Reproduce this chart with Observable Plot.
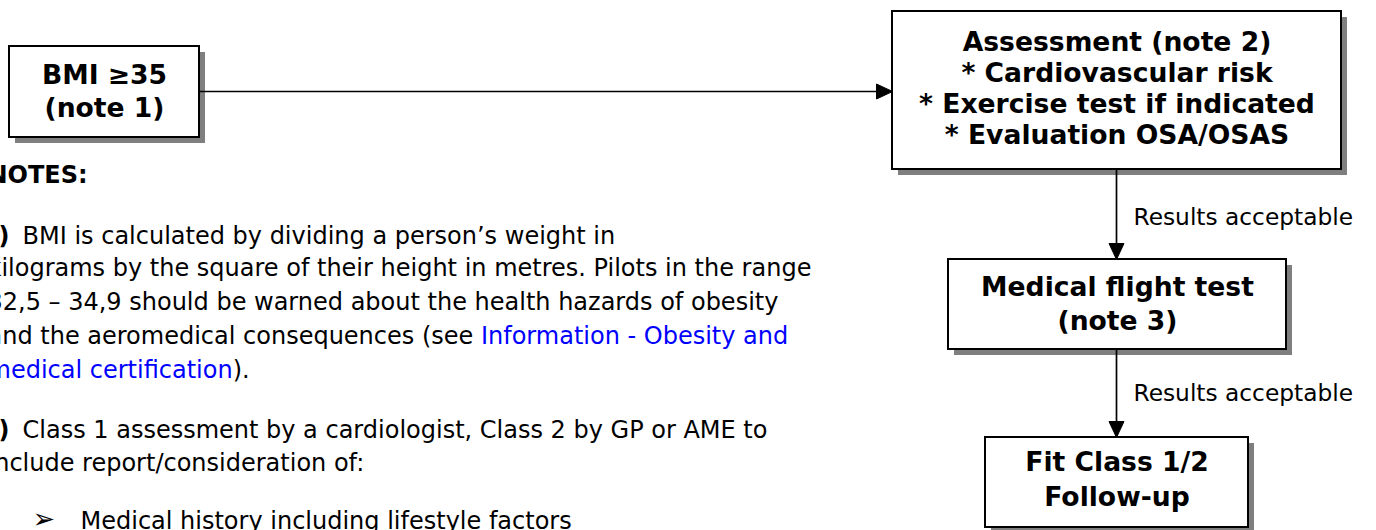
<!DOCTYPE html>
<html><head><meta charset="utf-8">
<script src="https://cdn.jsdelivr.net/npm/d3@7"></script>
<script src="https://cdn.jsdelivr.net/npm/@observablehq/plot@0.6"></script>
<style>
  html,body{margin:0;padding:0;background:#fff;overflow:hidden}
  svg{display:block}
</style>
</head><body><div id="chart"></div>
<script>
// ---------- content ----------
const boxLabels = [
  ["BMI ≥35", "(note 1)"],
  ["Assessment (note 2)", "* Cardiovascular risk", "* Exercise test if indicated", "* Evaluation OSA/OSAS"],
  ["Medical flight test", "(note 3)"],
  ["Fit Class 1/2", "Follow-up"]
];
const edgePairs = [[0, 1], [1, 2], [2, 3]];
const edgeLabels = ["", "Results acceptable", "Results acceptable"];

const noteHeading = "NOTES:";
const noteNumbers = ["1)", "2)"];
const noteLines = [
  [{text: "BMI is calculated by dividing a person’s weight in"}],
  [{text: "kilograms by the square of their height in metres. Pilots in the range"}],
  [{text: "32,5 – 34,9 should be warned about the health hazards of obesity"}],
  [{text: "and the aeromedical consequences (see "}, {text: "Information - Obesity and", link: true}],
  [{text: "medical certification", link: true}, {text: ")."}],
  [{text: "Class 1 assessment by a cardiologist, Class 2 by GP or AME to"}],
  [{text: "include report/consideration of:"}],
  [{text: "Medical history including lifestyle factors"}]
];
const bulletGlyph = "➢";

// ---------- layout (pixel space) ----------
const W = 1376, H = 530;
const FONT = "DejaVu Sans";
const boxFrames = [
  {x1: 9, x2: 199, y1: 46, y2: 137, lineY: [75, 108]},
  {x1: 892, x2: 1341, y1: 11, y2: 169, lineY: [42, 73, 104, 135]},
  {x1: 948, x2: 1286, y1: 259, y2: 349, lineY: [287, 321]},
  {x1: 985, x2: 1248, y1: 437, y2: 527, lineY: [462, 497]}
];
const edgeGeom = [
  {x1: 199, y1: 91, x2: 892, y2: 91},
  {x1: 1116, y1: 169, x2: 1116, y2: 259},
  {x1: 1116, y1: 349, x2: 1116, y2: 437}
];
const edgeLabelPos = [null, {x: 1133, y: 217}, {x: 1133, y: 393}];
const noteLineY = [236, 268, 302, 336, 370, 430, 463, 521];
const noteLineX = [22, -13, -13, -13, -13, 22, -13, 80];
const noteNumberPos = [{x: 9, y: 236}, {x: 9, y: 430}];
const headingPos = {x: -13, y: 175};
const bulletPos = {x: 32, y: 519};
const NOTE_SIZE = 24, BOX_SIZE = 26.6, EDGE_SIZE = 23.3;
const SHADOW = 6, HEAD_LEN = 16, HEAD_HALF = 7.5;

// ---------- derived data ----------
const ctx = document.createElement("canvas").getContext("2d");
const measure = (t, bold, size) => { ctx.font = `${bold ? "bold " : ""}${size}px "${FONT}"`; return ctx.measureText(t).width; };

const boxes = boxFrames.map((f, i) => ({...f, id: i}));
const boxText = boxLabels.flatMap((lines, i) => lines.map((t, j) => ({
  text: t, x: (boxFrames[i].x1 + boxFrames[i].x2) / 2, y: boxFrames[i].lineY[j]
})));

const edgeLines = [], heads = [];
edgePairs.forEach((p, i) => {
  const g = edgeGeom[i];
  const dx = g.x2 - g.x1, dy = g.y2 - g.y1, L = Math.hypot(dx, dy);
  const ux = dx / L, uy = dy / L;
  const bx = g.x2 - ux * HEAD_LEN, by = g.y2 - uy * HEAD_LEN;
  edgeLines.push({x1: g.x1, y1: g.y1, x2: bx + ux, y2: by + uy});
  heads.push({id: i, x: g.x2, y: g.y2}, {id: i, x: bx - uy * HEAD_HALF, y: by + ux * HEAD_HALF},
             {id: i, x: bx + uy * HEAD_HALF, y: by - ux * HEAD_HALF}, {id: i, x: g.x2, y: g.y2});
});
const edgeText = edgeLabels.map((t, i) => t ? {text: t, ...edgeLabelPos[i]} : null).filter(Boolean);

const noteSegs = [];
noteLines.forEach((parts, i) => {
  let x = noteLineX[i];
  parts.forEach(p => {
    noteSegs.push({text: p.text, x, y: noteLineY[i], color: p.link ? "#0000ff" : "#000"});
    x += measure(p.text, false, NOTE_SIZE);
  });
});
const numbers = noteNumbers.map((t, i) => ({text: t, ...noteNumberPos[i]}));

// ---------- plot ----------
const chart = Plot.plot({
  width: W, height: H,
  margin: 0,
  x: {domain: [0, W], range: [0, W], axis: null},
  y: {domain: [0, H], range: [0, H], axis: null},
  style: {fontFamily: `"${FONT}", Verdana, sans-serif`, background: "#fff"},
  marks: [
    // box shadows
    Plot.rect(boxes, {x1: d => d.x1 + SHADOW, x2: d => d.x2 + SHADOW, y1: d => d.y1 + SHADOW, y2: d => d.y2 + SHADOW, fill: "#7f7f7f"}),
    // boxes
    Plot.rect(boxes, {x1: "x1", x2: "x2", y1: "y1", y2: "y2", fill: "#fff", stroke: "#000", strokeWidth: 2}),
    Plot.text(boxText, {x: "x", y: "y", text: "text", fontSize: BOX_SIZE, fontWeight: "bold", fill: "#000", lineAnchor: "middle"}),
    // edges
    Plot.link(edgeLines, {x1: "x1", y1: "y1", x2: "x2", y2: "y2", stroke: "#000", strokeWidth: 1.7}),
    Plot.line(heads, {x: "x", y: "y", z: "id", fill: "#000", stroke: "#000", strokeWidth: 1}),
    Plot.text(edgeText, {x: "x", y: "y", text: "text", fontSize: EDGE_SIZE, textAnchor: "start", fill: "#000", lineAnchor: "middle"}),
    // notes
    Plot.text([{text: noteHeading, ...headingPos}], {x: "x", y: "y", text: "text", fontSize: NOTE_SIZE, fontWeight: "bold", textAnchor: "start", fill: "#000", lineAnchor: "middle"}),
    Plot.text(numbers, {x: "x", y: "y", text: "text", fontSize: NOTE_SIZE, fontWeight: "bold", textAnchor: "end", fill: "#000", lineAnchor: "middle"}),
    Plot.text(noteSegs, {x: "x", y: "y", text: "text", fontSize: NOTE_SIZE, textAnchor: "start", fill: "color", lineAnchor: "middle"}),
    Plot.text([{text: bulletGlyph, ...bulletPos}], {x: "x", y: "y", text: "text", fontSize: 27, textAnchor: "start", fill: "#000", lineAnchor: "middle"})
  ]
});
document.getElementById("chart").appendChild(chart);
</script>
</body></html>
